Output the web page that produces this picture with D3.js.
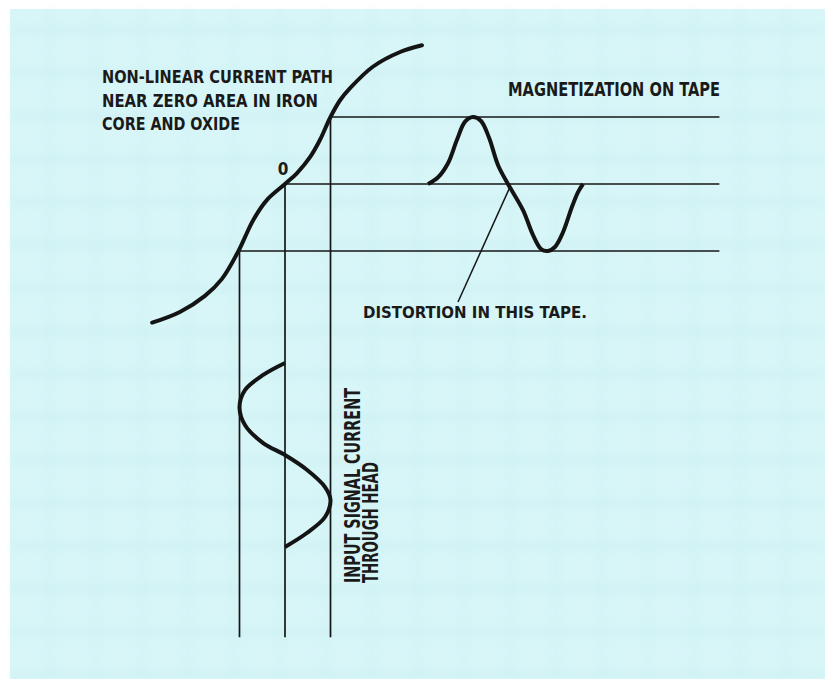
<!DOCTYPE html>
<html>
<head>
<meta charset="utf-8">
<script src="https://cdn.jsdelivr.net/npm/d3@7"></script>
<style>
  html, body { margin: 0; background: #ffffff; overflow: hidden; }
  svg { display: block; }
  text { font-family: "Liberation Sans Narrow", "DejaVu Sans Condensed", "Roboto", sans-serif; font-weight: bold; fill: #1a1a1a; }
</style>
</head>
<body>
<svg id="graph"></svg>
<script>
/* transfer curve of head + tape: current H vs magnetization M */
var curveH = [-2.92, -2.31, -1.76, -1.39, -1.03, -0.70, -0.40, 0, 0.26, 0.55, 0.77, 1.0, 1.21, 1.43, 1.93, 2.53, 3.01];
var curveM = [-2.07, -1.91, -1.67, -1.42, -1.01, -0.54, -0.24, 0, 0.16, 0.40, 0.66, 1.0, 1.25, 1.43, 1.75, 1.97, 2.07];

/* input signal current through head (time runs downward) */
var inT = [0, 0.065, 0.147, 0.239, 0.337, 0.435, 0.5, 0.58, 0.674, 0.745, 0.837, 0.924, 1];
var inH = [0, -0.48, -0.88, -1, -0.88, -0.48, 0, 0.48, 0.88, 1, 0.88, 0.48, 0];

/* resulting magnetization on tape (time runs to the right) */
var outT = [0, 0.065, 0.129, 0.187, 0.239, 0.29, 0.342, 0.394, 0.452, 0.516, 0.613, 0.677, 0.729, 0.774, 0.819, 0.871, 0.929, 0.968, 1];
var outM = [0, 0.10, 0.31, 0.66, 0.93, 1, 0.94, 0.69, 0.28, 0, -0.39, -0.76, -0.97, -1, -0.94, -0.72, -0.34, -0.12, 0];

/* projection levels: peaks and zero of the input */
var levelH = [1, 0, -1];
var levelM = [1, 0, -1];
var tapeEnd = 1.88;   // how far the level lines run along the tape
var inEnd = 1.49;     // how far the vertical projections run down

var svg = d3.select("#graph")
    .attr("width", 825)
    .attr("height", 679);

/* paper */
svg.append("rect")
    .attr("x", 10).attr("y", 9)
    .attr("width", 815).attr("height", 670)
    .attr("fill", "#d8f6f8");

var defs = svg.append("defs");
defs.append("filter").attr("id", "soft")
  .append("feGaussianBlur").attr("stdDeviation", 5);

var paper = svg.append("g").attr("filter", "url(#soft)").attr("opacity", 0.16);
paper.selectAll(".gh")
  .data(d3.range(30, 679, 43))
  .enter().append("line")
    .attr("x1", 10).attr("x2", 825)
    .attr("y1", function(d) { return d; })
    .attr("y2", function(d) { return d; })
    .attr("stroke", "#9fd6dc")
    .attr("stroke-width", 7);
paper.selectAll(".gv")
  .data(d3.range(50, 825, 46))
  .enter().append("line")
    .attr("y1", 9).attr("y2", 679)
    .attr("x1", function(d) { return d; })
    .attr("x2", function(d) { return d; })
    .attr("stroke", "#a8dbe0")
    .attr("stroke-width", 6);

/* scales */
var x = d3.scaleLinear().domain([-1, 1]).range([239.5, 330.5]);   // current H
var y = d3.scaleLinear().domain([-1, 1]).range([251, 117]);       // magnetization M
var tIn = d3.scaleLinear().domain([0, 1]).range([363, 547]);      // input time (down)
var tOut = d3.scaleLinear().domain([0, 1]).range([428, 583]);     // tape position (right)

var g = svg.append("g");

/* horizontal level lines from the curve out along the tape */
g.selectAll(".level")
  .data(levelM)
  .enter().append("line")
    .attr("class", "level")
    .attr("x1", function(d, i) { return x(levelH[i]); })
    .attr("x2", tOut(tapeEnd))
    .attr("y1", function(d) { return y(d); })
    .attr("y2", function(d) { return y(d); })
    .attr("stroke", "#161616")
    .attr("stroke-width", 1.7);

/* vertical projections down from the curve */
g.selectAll(".proj")
  .data(levelH)
  .enter().append("line")
    .attr("class", "proj")
    .attr("x1", function(d) { return x(d); })
    .attr("x2", function(d) { return x(d); })
    .attr("y1", function(d, i) { return y(levelM[i]); })
    .attr("y2", tIn(inEnd))
    .attr("stroke", "#161616")
    .attr("stroke-width", 1.7);

/* transfer curve */
var curveData = curveH.map(function(h, i) { return [h, curveM[i]]; });
g.append("path")
    .datum(curveData)
    .attr("fill", "none")
    .attr("stroke", "#141414")
    .attr("stroke-width", 4)
    .attr("stroke-linecap", "round")
    .attr("d", d3.line()
        .x(function(d) { return x(d[0]); })
        .y(function(d) { return y(d[1]); })
        .curve(d3.curveCatmullRom));

/* input signal */
var inData = inT.map(function(t, i) { return [t, inH[i]]; });
g.append("path")
    .datum(inData)
    .attr("fill", "none")
    .attr("stroke", "#141414")
    .attr("stroke-width", 4)
    .attr("d", d3.line()
        .x(function(d) { return x(d[1]); })
        .y(function(d) { return tIn(d[0]); })
        .curve(d3.curveCatmullRom));

/* magnetization on tape */
var outData = outT.map(function(t, i) { return [t, outM[i]]; });
g.append("path")
    .datum(outData)
    .attr("fill", "none")
    .attr("stroke", "#141414")
    .attr("stroke-width", 4)
    .attr("d", d3.line()
        .x(function(d) { return tOut(d[0]); })
        .y(function(d) { return y(d[1]); })
        .curve(d3.curveCatmullRom));

/* leader to the distortion */
g.append("line")
    .attr("x1", tOut(0.53)).attr("y1", y(-0.04))
    .attr("x2", 458).attr("y2", 302)
    .attr("stroke", "#161616")
    .attr("stroke-width", 1.5);

/* labels */
function label(txt, px, py, size, len) {
    return svg.append("text")
        .attr("x", px).attr("y", py)
        .attr("font-size", size)
        .attr("textLength", len)
        .attr("lengthAdjust", "spacingAndGlyphs")
        .text(txt);
}
label("NON-LINEAR CURRENT PATH", 102, 83, 18, 231);
label("NEAR ZERO AREA IN IRON", 102, 107, 18, 216);
label("CORE AND OXIDE", 102, 130, 18, 138);
label("MAGNETIZATION ON TAPE", 508, 96, 19, 212);
label("DISTORTION IN THIS TAPE.", 363, 318, 16, 224);

svg.append("text")
    .attr("x", x(0) - 2).attr("y", 175)
    .attr("text-anchor", "middle")
    .attr("font-size", 17)
    .text("0");

svg.append("text")
    .attr("transform", "translate(360,583) rotate(-90)")
    .attr("font-size", 21)
    .attr("textLength", 195)
    .attr("lengthAdjust", "spacingAndGlyphs")
    .text("INPUT SIGNAL CURRENT");
svg.append("text")
    .attr("transform", "translate(378,583) rotate(-90)")
    .attr("font-size", 21)
    .attr("textLength", 121)
    .attr("lengthAdjust", "spacingAndGlyphs")
    .text("THROUGH HEAD");
</script>
</body>
</html>
